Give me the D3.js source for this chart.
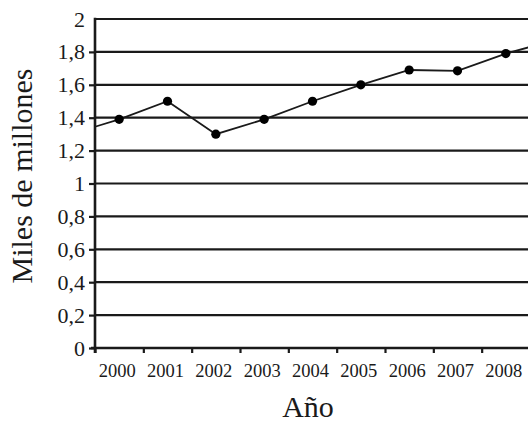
<!DOCTYPE html>
<html lang="es">

<head>
    <meta charset="UTF-8">
    <title>Miles de millones por año</title>
    <script src="https://d3js.org/d3.v7.min.js"></script>
    <style>
        body { margin: 0; background: #fff; }
        svg { display: block; }
        svg text { font-family: "Liberation Serif", "Times New Roman", serif; }
    </style>
</head>

<body>
    <div id="chart-container"></div>
    <script>
        // data
        const years = [2000, 2001, 2002, 2003, 2004, 2005, 2006, 2007, 2008];
        const values = [1.39, 1.5, 1.3, 1.39, 1.5, 1.6, 1.69, 1.685, 1.79];
        // the line runs on past the first and last year to the plot edges
        const edgeYears = [1999.5, 2008.5];
        const edgeValues = [1.345, 1.83];
        const yTicks = [0, 0.2, 0.4, 0.6, 0.8, 1, 1.2, 1.4, 1.6, 1.8, 2];
        const xTitle = 'Año';
        const yTitle = 'Miles de millones';

        const width = 528, height = 426;
        const plotLeft = 95, plotRight = 530, plotTop = 19, plotBottom = 348;
        const ink = '#1a1a1a';

        const es = d3.formatLocale({ decimal: ',', thousands: '.', grouping: [3], currency: ['', ' €'] });
        const fmt = es.format('.1~f');

        const svg = d3.select('#chart-container')
            .append('svg')
            .attr('width', width)
            .attr('height', height);

        const x = d3.scaleLinear()
            .domain([edgeYears[0], edgeYears[1]])
            .range([plotLeft, plotRight]);

        const y = d3.scaleLinear()
            .domain([0, 2])
            .range([plotBottom, plotTop]);

        // horizontal gridlines
        svg.append('g')
            .selectAll('line')
            .data(yTicks.filter(d => d > 0))
            .enter()
            .append('line')
            .attr('x1', plotLeft)
            .attr('x2', width)
            .attr('y1', d => y(d))
            .attr('y2', d => y(d))
            .attr('stroke', ink)
            .attr('stroke-width', 2.2);

        // y axis
        const yAxis = svg.append('g')
            .attr('transform', `translate(${plotLeft},0)`)
            .call(d3.axisLeft(y).tickValues(yTicks).tickFormat(fmt).tickSize(6).tickPadding(4));
        yAxis.attr('font-family', null);
        yAxis.select('.domain').remove();
        yAxis.selectAll('.tick line')
            .attr('stroke', ink)
            .attr('stroke-width', 2.2)
            .attr('display', d => d === 2 ? 'none' : null);
        yAxis.selectAll('.tick text')
            .attr('fill', ink)
            .style('font-size', '22px');

        // x axis: ticks between the years, labels on the years
        const tickYears = d3.range(edgeYears[0], edgeYears[1] + 0.01, 1);
        const xAxis = svg.append('g')
            .attr('transform', `translate(0,${plotBottom})`)
            .call(d3.axisBottom(x).tickValues(tickYears).tickSize(5).tickFormat(''));
        xAxis.select('.domain').remove();
        xAxis.selectAll('.tick line')
            .attr('stroke', ink)
            .attr('stroke-width', 2.2);

        svg.append('line')
            .attr('x1', plotLeft - 4)
            .attr('x2', width)
            .attr('y1', plotBottom)
            .attr('y2', plotBottom)
            .attr('stroke', ink)
            .attr('stroke-width', 2.6);

        svg.append('line')
            .attr('x1', plotLeft)
            .attr('x2', plotLeft)
            .attr('y1', plotTop - 1.3)
            .attr('y2', plotBottom + 5)
            .attr('stroke', ink)
            .attr('stroke-width', 2.6);

        svg.append('g')
            .selectAll('text')
            .data(years)
            .enter()
            .append('text')
            .attr('x', d => x(d) - 2)
            .attr('y', 377)
            .attr('text-anchor', 'middle')
            .style('font-size', '18.5px')
            .attr('fill', ink)
            .text(d => d);

        // the series
        const points = years.map((d, i) => ({ year: d, value: values[i] }));
        const linePoints = [{ year: edgeYears[0], value: edgeValues[0] }]
            .concat(points)
            .concat([{ year: edgeYears[1], value: edgeValues[1] }]);

        const line = d3.line()
            .x(d => x(d.year))
            .y(d => y(d.value));

        svg.append('path')
            .datum(linePoints)
            .attr('d', line)
            .attr('fill', 'none')
            .attr('stroke', ink)
            .attr('stroke-width', 1.8);

        svg.append('g')
            .selectAll('circle')
            .data(points)
            .enter()
            .append('circle')
            .attr('cx', d => x(d.year))
            .attr('cy', d => y(d.value))
            .attr('r', 4.6)
            .attr('fill', '#000');

        // axis titles
        svg.append('text')
            .attr('x', 308)
            .attr('y', 417)
            .attr('text-anchor', 'middle')
            .style('font-size', '30px')
            .attr('fill', ink)
            .text(xTitle);

        svg.append('text')
            .attr('transform', 'translate(32,176) rotate(-90)')
            .attr('text-anchor', 'middle')
            .style('font-size', '30px')
            .attr('fill', ink)
            .text(yTitle);
    </script>
</body>

</html>
